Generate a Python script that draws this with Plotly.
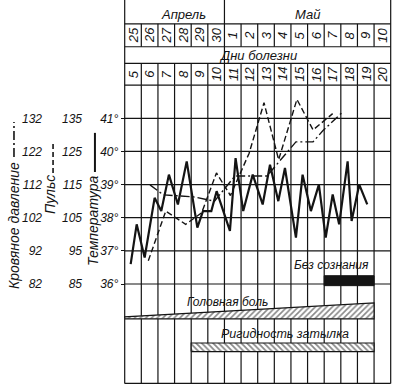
import plotly.graph_objects as go

# ---------------- data ----------------
# header: calendar dates and day of illness, one column per day
dates = ["25", "26", "27", "28", "29", "30", "1", "2", "3", "4", "5", "6", "7", "8", "9", "10"]
illness_days = ["5", "6", "7", "8", "9", "10", "11", "12", "13", "14", "15", "16", "17", "18", "19", "20"]
months = ["Апрель", "Май"]
month_centers = [3.55, 11.0]

# temperature, measured twice a day (time in days from 25 April)
temp_t = [0.36, 0.72, 1.20, 1.80, 2.20, 2.66, 3.20, 3.73, 4.37, 4.71, 5.21,
          5.53, 6.33, 6.67, 7.13, 7.70, 8.30, 8.74, 9.24, 9.64, 10.30, 10.70,
          11.20, 11.68, 12.09, 12.51, 12.90, 13.41, 13.65, 14.11, 14.59]
temp_c = [36.6, 37.8, 36.8, 38.6, 38.2, 39.3, 38.4, 39.7, 37.7, 38.2, 38.2,
          38.8, 37.6, 39.8, 38.2, 39.3, 38.4, 39.6, 38.5, 39.5, 37.4, 39.3,
          38.2, 39.0, 37.4, 38.7, 37.8, 39.7, 37.9, 39.0, 38.4]

# pulse, beats per minute
pulse_t = [1.42, 2.47, 3.67, 4.63, 5.52, 6.36, 7.48, 8.38, 9.26, 10.36, 11.33, 12.51]
pulse_v = [92, 107, 103, 106.5, 118.5, 111.7, 124.4, 139.7, 122.5, 140.7, 131.5, 136.4]

# blood pressure
bp_t = [1.52, 2.32, 4.13, 5.40, 6.63, 8.56, 10.30, 11.33, 11.93, 13.07]
bp_v = [111.9, 108.9, 108.3, 107.0, 114.6, 114.6, 124.9, 124.9, 128.3, 133.7]

# scale labels
temp_ticks = [36, 37, 38, 39, 40, 41]
temp_text = ["36°", "37°", "38°", "39°", "40°", "41°"]
pulse_ticks = [85, 95, 105, 115, 125, 135]
bp_ticks = [82, 92, 102, 112, 122, 132]

# symptoms (start day, end day)
unconscious_days = [12, 15]
headache_days = [0, 15]
headache_width = [0.06, 0.48]
rigidity_days = [4, 15]

# ---------------- layout constants ----------------
N = len(dates)
X0, X1 = -7.501, 16.560          # visible x span (days)
Y0, Y1 = 32.771, 44.570          # visible y span (temperature units)
BOTTOM, ROW_DAY, ROW_DAY_TOP, ROW_DATE, ROW_MONTH, TOP = 33.0, 42.0, 42.66, 43.16, 43.85, Y1

INK = "#141414"
FONT = "Liberation Sans Narrow, Liberation Sans, Arial, sans-serif"


def ital(size):
    return dict(family=FONT, size=size, color=INK, style="italic")


fig = go.Figure()

# symptom bars
hb = 34.95
fig.add_trace(go.Scatter(
    x=[headache_days[0], headache_days[1], headache_days[1], headache_days[0], headache_days[0]],
    y=[hb, hb, hb + headache_width[1], hb + headache_width[0], hb],
    mode="lines", fill="toself", line=dict(color=INK, width=1.2),
    fillcolor="white",
    fillpattern=dict(shape="/", fgcolor=INK, bgcolor="white", size=4, solidity=0.4),
    hoverinfo="skip", showlegend=False))
fig.add_trace(go.Scatter(
    x=[rigidity_days[0], rigidity_days[1], rigidity_days[1], rigidity_days[0], rigidity_days[0]],
    y=[33.96, 33.96, 34.22, 34.22, 33.96],
    mode="lines", fill="toself", line=dict(color=INK, width=1.2),
    fillcolor="white",
    fillpattern=dict(shape="\\", fgcolor=INK, bgcolor="white", size=4, solidity=0.45),
    hoverinfo="skip", showlegend=False))
fig.add_trace(go.Scatter(
    x=[unconscious_days[0], unconscious_days[1], unconscious_days[1], unconscious_days[0], unconscious_days[0]],
    y=[35.95, 35.95, 36.25, 36.25, 35.95],
    mode="lines", fill="toself", line=dict(color=INK, width=1),
    fillcolor=INK, hoverinfo="skip", showlegend=False))

# curves
fig.add_trace(go.Scatter(x=bp_t, y=bp_v, yaxis="y3", mode="lines",
                         line=dict(color=INK, width=1.4, dash="9px,3px,2px,3px"),
                         showlegend=False))
fig.add_trace(go.Scatter(x=pulse_t, y=pulse_v, yaxis="y2", mode="lines",
                         line=dict(color=INK, width=1.4, dash="6px,3px"),
                         showlegend=False))
fig.add_trace(go.Scatter(x=temp_t, y=temp_c, mode="lines",
                         line=dict(color=INK, width=2.2), showlegend=False))

# ---------------- grid / table frame ----------------
shapes = []


def seg(x0, y0, x1, y1, w=1.2, dash=None):
    ln = dict(color=INK, width=w)
    if dash:
        ln["dash"] = dash
    shapes.append(dict(type="line", xref="x", yref="y", x0=x0, y0=y0, x1=x1, y1=y1,
                       line=ln, layer="below"))


for t in temp_ticks:
    seg(0, t, N, t)
for yy in (BOTTOM, ROW_DAY, ROW_DAY_TOP, ROW_DATE, ROW_MONTH):
    seg(0, yy, N, yy)
for i in range(N + 1):
    if i in (0, N, 6):
        seg(i, BOTTOM, i, TOP)
    else:
        seg(i, BOTTOM, i, ROW_DAY)
        seg(i, ROW_DAY, i, ROW_DAY_TOP)
        seg(i, ROW_DATE, i, ROW_MONTH)

# line keys beside the scale titles
shapes.append(dict(type="line", x0=-6.66, x1=-6.66, y0=39.83, y1=40.89,
                   line=dict(color=INK, width=1.6, dash="9px,3px,2px,3px")))
shapes.append(dict(type="line", x0=-4.31, x1=-4.31, y0=39.35, y1=40.25,
                   line=dict(color=INK, width=1.6, dash="5px,3px")))
shapes.append(dict(type="line", x0=-1.79, x1=-1.79, y0=39.38, y1=40.56,
                   line=dict(color=INK, width=2)))

# ---------------- text ----------------
ann = []


def txt(x, y, s, size, angle=0):
    ann.append(dict(x=x, y=y, xref="x", yref="y", text=s, showarrow=False,
                    textangle=angle, font=ital(size), xanchor="center", yanchor="middle"))


for m, c in zip(months, month_centers):
    txt(c, 44.13, m, 13)
for i, d in enumerate(dates):
    txt(i + 0.5, (ROW_DATE + ROW_MONTH) / 2, d, 13, -90)
for i, d in enumerate(illness_days):
    txt(i + 0.5, (ROW_DAY + ROW_DAY_TOP) / 2, d, 13, -90)
txt(8.0, 42.91, "Дни болезни", 13)

txt(-6.66, 37.78, "Кровяное давление", 14, -90)
txt(-4.49, 38.69, "Пульс", 14, -90)
txt(-1.91, 37.93, "Температура", 14, -90)

txt(12.44, 36.57, "Без сознания", 12)
txt(6.21, 35.46, "Головная боль", 12)
txt(9.64, 34.49, "Ригидность затылка", 12.5)

fig.update_layout(
    width=400, height=391, autosize=False,
    margin=dict(l=0, r=0, t=0, b=0, pad=0),
    paper_bgcolor="white", plot_bgcolor="white",
    shapes=shapes, annotations=ann, showlegend=False,
    xaxis=dict(range=[X0, X1], visible=False, fixedrange=True),
    yaxis=dict(range=[Y0, Y1], anchor="free", position=124.7 / 400, side="left",
               tickvals=temp_ticks, ticktext=temp_text, ticks="outside", ticklen=4,
               tickcolor=INK, tickwidth=1.2, showgrid=False, zeroline=False,
               showline=False, tickfont=ital(12)),
    yaxis2=dict(range=[85 + (Y0 - 36) * 10, 85 + (Y1 - 36) * 10], overlaying="y",
                anchor="free", position=0.205, side="left", tickvals=pulse_ticks,
                ticks="", showgrid=False, zeroline=False, showline=False,
                tickfont=ital(12)),
    yaxis3=dict(range=[82 + (Y0 - 36) * 10, 82 + (Y1 - 36) * 10], overlaying="y",
                anchor="free", position=0.105, side="left", tickvals=bp_ticks,
                ticks="", showgrid=False, zeroline=False, showline=False,
                tickfont=ital(12)),
)

fig.write_html("out.html")
